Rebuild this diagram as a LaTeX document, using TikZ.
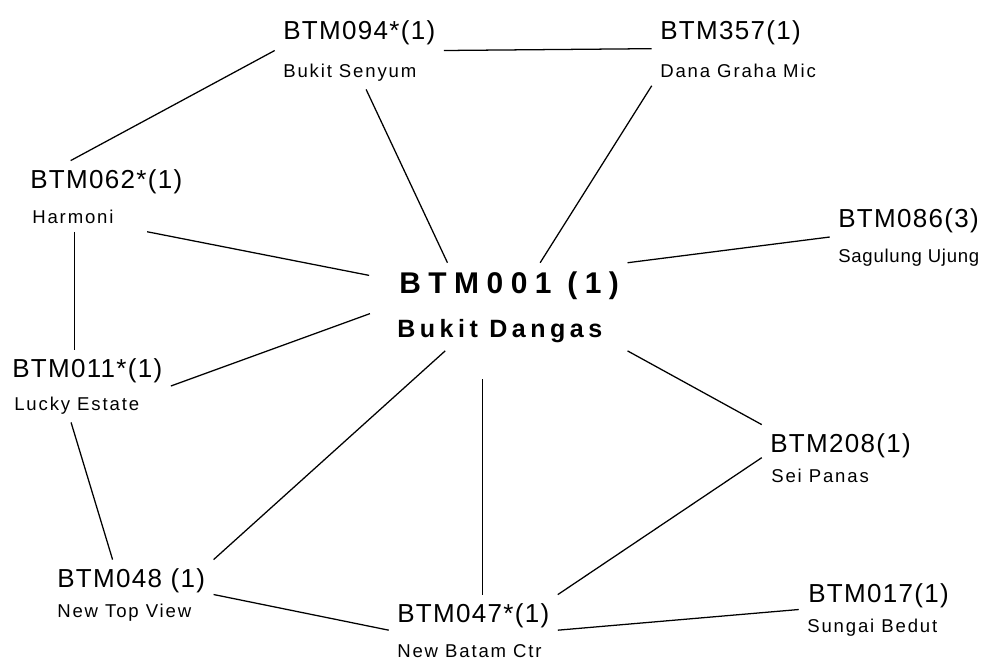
\documentclass[tikz,border=0pt]{standalone}
\usepackage{fontspec}
\setmainfont{Liberation Sans}
\newfontfamily\codefont[LetterSpace=5]{Liberation Sans}
\newfontfamily\namefont[LetterSpace=10]{Liberation Sans}
\newfontfamily\hubcodefont[LetterSpace=25]{Liberation Sans}
\newfontfamily\hubnamefont[LetterSpace=18]{Liberation Sans}
\usetikzlibrary{fit}

\begin{document}
\begin{tikzpicture}[
    x=0.025cm, y=-0.025cm,
    code/.style={anchor=base west, inner sep=0pt, font=\codefont\fontsize{18.5}{22}\selectfont},
    place/.style={anchor=base west, inner sep=0pt, font=\namefont\fontsize{13.2}{16}\selectfont},
    hubcode/.style={anchor=base west, inner sep=0pt, font=\hubcodefont\bfseries\fontsize{21.3}{26}\selectfont},
    hubname/.style={anchor=base west, inner sep=0pt, font=\hubnamefont\bfseries\fontsize{17.8}{21}\selectfont},
    site/.style={inner sep=0.2cm},
    link/.style={line width=0.9pt},
]

\fill[white] (0,0) rectangle (983,660);
\useasboundingbox (0,0) rectangle (983,660);

% Hub
\node[hubcode] (hc) at (399,293) {BTM001 (1)};
\node[hubname] (hn) at (397,337) {Bukit Dangas};
\node[site, fit=(hc)(hn)] (ctr) {};

% Sites, code on top and place name below
\node[code] (c094) at (283,39) {BTM094*(1)};
\node[place] (n094) at (283,77) {Bukit Senyum};
\node[code] (c357) at (660,39) {BTM357(1)};
\node[place] (n357) at (660,77) {Dana Graha Mic};
\node[code] (c062) at (30,188) {BTM062*(1)};
\node[place] (n062) at (32,223) {Harmoni};
\node[code] (c086) at (838,227) {BTM086(3)};
\node[place] (n086) at (838,262) {\addfontfeature{LetterSpace=4}Sagulung Ujung};
\node[code] (c011) at (12,377) {BTM011*(1)};
\node[place] (n011) at (14,410) {Lucky Estate};
\node[code] (c208) at (770,452) {BTM208(1)};
\node[place] (n208) at (771,482) {Sei Panas};
\node[code] (c048) at (57,587) {BTM048 (1)};
\node[place] (n048) at (57,617) {New Top View};
\node[code] (c047) at (397,622) {BTM047*(1)};
\node[place] (n047) at (397,657) {New Batam Ctr};
\node[code] (c017) at (808,602) {BTM017(1)};
\node[place] (n017) at (807,632) {Sungai Bedut};

% invisible boxes around each site for the links
\node[site, fit=(c094)(n094)] (s094) {};
\node[site, fit=(c357)(n357)] (s357) {};
\node[site, fit=(c062)(n062)] (s062) {};
\node[site, fit=(c086)(n086)] (s086) {};
\node[site, fit=(c011)(n011)] (s011) {};
\node[site, fit=(c208)(n208)] (s208) {};
\node[site, fit=(c048)(n048)] (s048) {};
\node[site, fit=(c047)(n047)] (s047) {};
\node[site, fit=(c017)(n017)] (s017) {};

% Links to the hub
\draw[link] (s094.-80) -- (ctr.144);
\draw[link] (s357.south west) -- (ctr.54);
\draw[link, shorten >=0.5cm] (s062.-41) -- (ctr.167);
\draw[link] (s086.west) -- (ctr.north east);
\draw[link, shorten <=0.5cm] (ctr.west) -- (s011.east);
\draw[link] (ctr.-145) -- (s048.north east);
\draw[link, shorten >=0.7cm] (s047.76) -- (s047.76 |- ctr.south);
\draw[link] (ctr.south east) -- (s208.north west);

% Links between sites
\draw[link] (s094.west) -- (s062.135);
\draw[link] (s094.east) -- (s357.west);
\draw[link] (s062.-132) -- (s062.-132 |- s011.north);
\draw[link] (s011.-114) -- (s048.118);
\draw[link] (s048.east) -- (s047.west);
\draw[link] (s208.west) -- (s047.north east);
\draw[link] (s047.east) -- (s017.west);

\end{tikzpicture}
\end{document}
